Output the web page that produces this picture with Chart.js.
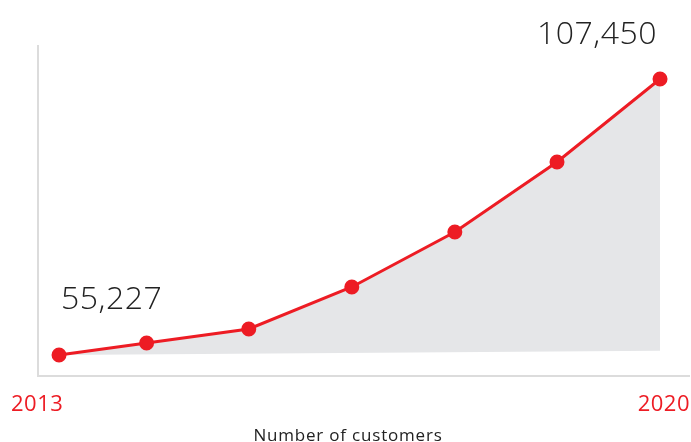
<!DOCTYPE html>
<html>
<head>
<meta charset="utf-8">
<script src="https://cdn.jsdelivr.net/npm/chart.js@4"></script>
<style>
  html, body { margin: 0; padding: 0; background: #fff; }
  #wrap { width: 691px; height: 442px; position: relative; }
</style>
</head>
<body>
<div id="wrap"><canvas id="chart"></canvas></div>
<script>
const years = [2013, 2014.02, 2015.21, 2016.41, 2017.61, 2018.8, 2020];
const customers = [55227, 57500, 60150, 68100, 78500, 91750, 107450];
const baseline = [55227, 56040];
const endLabels = ['2013', '2020'];
const axisTitle = 'Number of customers';

const red = '#ed1c24';
const fontFam = "'Open Sans', 'Noto Sans', sans-serif";

const decor = {
  id: 'decor',
  beforeDatasetsDraw(chart) {
    const { ctx, chartArea: a } = chart;
    ctx.save();
    ctx.strokeStyle = '#dcdcdc';
    ctx.lineWidth = 2;
    ctx.beginPath();
    ctx.moveTo(a.left, a.top);
    ctx.lineTo(a.left, a.bottom);
    ctx.lineTo(a.right, a.bottom);
    ctx.stroke();
    ctx.restore();
  },
  afterDraw(chart) {
    const { ctx, chartArea: a } = chart;
    const pts = chart.getDatasetMeta(0).data;
    const first = pts[0], last = pts[pts.length - 1];
    const fmt = v => v.toLocaleString('en-US');
    ctx.save();
    ctx.fillStyle = '#222';
    ctx.font = '300 32px ' + fontFam;
    ctx.textAlign = 'left';
    ctx.textBaseline = 'alphabetic';
    ctx.letterSpacing = '0.5px';
    ctx.fillText(fmt(customers[0]), first.x + 2, first.y - 46);
    ctx.textAlign = 'right';
    ctx.fillText(fmt(customers[customers.length - 1]), last.x - 3, last.y - 35);

    ctx.fillStyle = red;
    ctx.font = '22px ' + fontFam;
    ctx.textAlign = 'left';
    ctx.fillText(endLabels[0], 11, a.bottom + 35);
    ctx.textAlign = 'right';
    ctx.fillText(endLabels[1], 690, a.bottom + 35);

    ctx.fillStyle = '#222';
    ctx.font = '17px ' + fontFam;
    ctx.letterSpacing = '0.8px';
    ctx.textAlign = 'center';
    ctx.fillText(axisTitle, 348, a.bottom + 65);
    ctx.restore();
  }
};

new Chart(document.getElementById('chart'), {
  type: 'line',
  data: {
    datasets: [
      {
        data: years.map((x, i) => ({ x, y: customers[i] })),
        borderColor: red,
        borderWidth: 3,
        backgroundColor: '#e5e6e8',
        pointBackgroundColor: red,
        pointBorderColor: red,
        pointRadius: 6,
        tension: 0,
        fill: '+1'
      },
      {
        data: [
          { x: years[0], y: baseline[0] },
          { x: years[years.length - 1], y: baseline[1] }
        ],
        borderWidth: 0,
        pointRadius: 0,
        fill: false
      }
    ]
  },
  options: {
    responsive: true,
    maintainAspectRatio: false,
    animation: false,
    layout: { autoPadding: false, padding: { left: 38, right: 1, top: 45, bottom: 66 } },
    plugins: { legend: { display: false }, tooltip: { enabled: false } },
    scales: {
      x: { type: 'linear', display: false, min: 2012.755, max: 2020.349 },
      y: { display: false, min: 51254, max: 113883 }
    }
  },
  plugins: [decor]
});
</script>
</body>
</html>
